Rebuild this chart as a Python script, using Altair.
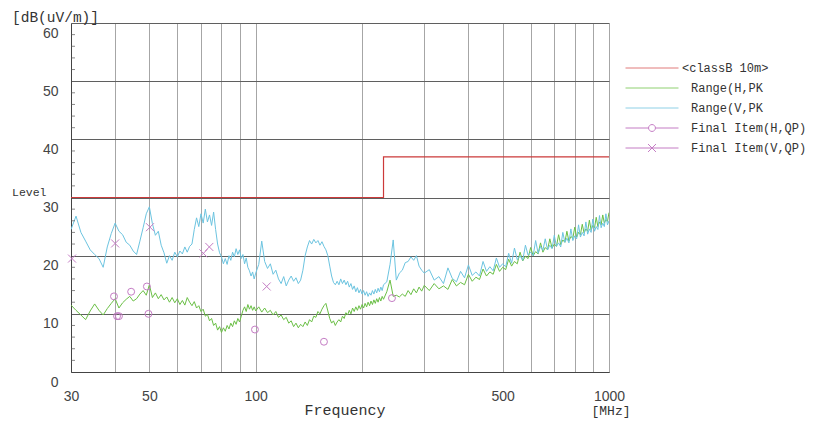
import altair as alt
import pandas as pd

# ---------------- data ----------------
F1 = [30, 31, 32, 33, 34, 35, 36, 37, 38, 39, 40, 41, 42, 43, 44, 45, 46, 47, 48, 49,
      50, 51, 52, 53, 54, 55, 56, 57, 58, 59, 60, 61, 62, 63, 64, 65, 66, 67, 68, 69,
      70, 71, 72, 73, 74, 75, 76, 77, 78, 79, 80, 81, 82, 83, 84, 85, 86, 87, 88, 89,
      90, 91, 92, 93, 94, 95, 96, 97, 98, 99, 100]
V1 = [24.5, 26.8, 24.0, 22.5, 21.0, 20.2, 19.5, 18.0, 21.5, 23.8, 25.6, 24.2, 23.6, 22.3, 21.8, 20.8, 20.2, 22.5, 24.8, 27.2,
      28.4, 25.5, 23.5, 24.2, 21.8, 20.5, 18.7, 20.0, 19.2, 20.6, 19.8, 20.8, 20.3, 21.5, 20.6, 21.6, 22.0, 24.5, 26.5, 25.0,
      27.2, 25.6, 28.0, 25.8, 27.0, 25.2, 27.5, 24.5, 22.0, 20.5, 19.8, 18.6, 19.5, 18.5, 20.0, 19.2, 20.6, 19.8, 21.2, 20.2,
      21.0, 19.5, 20.2, 18.6, 19.6, 18.0, 17.4, 16.5, 17.2, 16.0, 17.0]
H1 = [11.5, 10.6, 9.8, 9.0, 10.5, 11.7, 10.6, 9.8, 10.9, 11.8, 12.6, 11.0, 11.9, 12.5, 13.0, 12.2, 12.6, 13.4, 14.0, 13.2,
      15.0, 12.8, 13.6, 12.6, 13.3, 12.4, 12.9, 12.0, 12.8, 11.9, 12.6, 11.6, 12.3, 11.5, 12.8, 12.0, 11.4, 12.1, 11.0, 11.4,
      10.4, 10.8, 9.6, 9.9, 8.8, 9.2, 8.0, 8.4, 7.2, 7.8, 6.8, 7.6, 7.0, 8.0, 7.4, 8.4, 7.8, 8.8, 8.2, 9.2,
      8.6, 9.6, 10.6, 11.2, 10.4, 11.6, 10.8, 11.4, 10.6, 11.2, 10.5]

F2 = [102, 104, 106, 108, 110, 112, 114, 116, 118, 120, 122, 124, 126, 128, 130, 132, 134, 136, 138, 140,
      142, 144, 146, 148, 150, 152, 154, 156, 158, 160, 162, 164, 166, 168, 170, 172, 174, 176, 178, 180,
      182, 184, 186, 188, 190, 192, 194, 196, 198, 200, 202, 204, 206, 208, 210, 212, 214, 216, 218, 220,
      222, 224, 226, 228, 230]
V2 = [18.5, 22.5, 19.0, 17.8, 18.6, 16.8, 17.5, 16.0, 15.2, 16.4, 14.8, 15.8, 16.5, 15.6, 16.2, 15.2, 15.8, 17.5, 20.0, 21.5,
      22.6, 22.0, 22.8, 22.2, 22.6, 21.8, 22.4, 21.6, 21.0, 20.0, 18.2, 16.5, 15.4, 15.0, 15.6, 15.0, 16.0, 15.2, 15.8, 15.0,
      15.6, 14.6, 15.2, 14.2, 14.8, 13.8, 14.5, 13.6, 14.2, 13.4, 14.0, 13.2, 13.8, 13.0, 13.6, 13.2, 14.0, 13.4, 14.2, 13.6,
      14.4, 13.8, 14.6, 14.0, 15.0]
H2 = [11.2, 10.3, 11.0, 10.2, 10.6, 9.8, 10.4, 9.4, 9.8, 9.0, 9.4, 8.4, 8.8, 7.8, 8.4, 7.6, 8.2, 7.8, 8.6, 8.0,
      9.0, 8.6, 9.6, 9.4, 10.4, 10.0, 10.8, 11.4, 11.8, 10.5, 9.2, 8.4, 8.8, 8.0, 8.6, 9.0, 8.6, 9.6, 9.2, 10.2,
      9.8, 10.6, 10.0, 11.0, 10.4, 11.2, 10.6, 11.4, 10.8, 11.6, 11.0, 11.8, 11.2, 12.0, 11.4, 12.2, 11.6, 12.4, 11.8, 12.6,
      12.0, 12.8, 12.2, 13.0, 12.5]

F3 = [235, 240, 245, 250, 255, 260, 265, 270, 275, 280, 285, 290, 295, 300]
V3 = [15.5, 18.5, 22.7, 15.8, 17.0, 17.5, 18.8, 19.0, 19.8, 19.2, 20.0, 18.2, 17.5, 17.0]
H3 = [13.8, 15.8, 13.0, 13.2, 12.9, 13.4, 13.0, 14.0, 13.3, 14.3, 13.6, 14.6, 13.9, 14.9]

F4 = [310, 320, 330, 340, 350, 360, 370, 380, 390, 400, 410, 420, 430, 440, 450, 460, 470, 480, 490, 500,
      510, 520, 530, 540, 550, 560, 570, 580, 590, 600, 610, 620, 630, 640, 650, 660, 670, 680, 690, 700,
      710, 720, 730, 740, 750, 760, 770, 780, 790, 800, 810, 820, 830, 840, 850, 860, 870, 880, 890, 900,
      910, 920, 930, 940, 950, 960, 970, 980, 990, 1000]
V4 = [17.6, 15.8, 16.4, 15.2, 17.9, 16.1, 15.5, 17.3, 16.2, 18.4, 16.6, 17.2, 16.5, 19.0, 17.3, 18.1, 17.4, 19.6, 18.0, 18.6,
      18.1, 20.4, 18.7, 21.3, 19.3, 20.0, 19.2, 21.8, 20.1, 20.6, 20.0, 22.6, 20.4, 21.6, 20.9, 22.9, 21.0, 21.8, 21.2, 23.5,
      21.6, 22.2, 21.5, 24.0, 22.3, 23.0, 22.2, 24.6, 22.6, 23.4, 22.9, 25.3, 23.2, 24.0, 23.4, 25.8, 23.7, 24.6, 24.0, 26.3,
      24.2, 25.0, 24.5, 26.9, 24.8, 25.6, 25.0, 27.2, 25.3, 26.0]
H4 = [14.0, 15.2, 14.3, 14.8, 14.2, 15.9, 14.8, 15.4, 15.0, 16.8, 15.6, 16.3, 15.9, 17.7, 16.5, 17.2, 16.8, 18.5, 17.3, 18.0,
      17.6, 19.4, 18.2, 19.0, 18.6, 20.6, 19.1, 19.9, 19.5, 21.4, 20.0, 20.7, 20.3, 22.2, 20.6, 21.4, 21.0, 22.9, 21.3, 22.0,
      21.6, 23.6, 21.9, 22.7, 22.3, 24.2, 22.5, 23.3, 23.0, 24.9, 23.2, 24.0, 23.6, 25.4, 23.9, 24.6, 24.2, 26.1, 24.4, 25.2,
      24.8, 26.6, 25.0, 25.8, 25.3, 27.0, 25.6, 26.2, 25.9, 27.4]

LIMIT_F = [30, 230, 230, 1000]
LIMIT_DB = [30, 30, 37, 37]

QP_H_F = [39.7, 40.5, 41.0, 44.4, 49.2, 49.7, 99.5, 156, 243]
QP_H_DB = [13.0, 9.6, 9.6, 13.8, 14.7, 10.0, 7.3, 5.2, 12.7]
QP_V_F = [30.2, 40.0, 50.2, 71.1, 73.9, 107.4]
QP_V_DB = [19.5, 22.1, 24.9, 20.4, 21.5, 14.7]

X_GRID = [30, 40, 50, 60, 70, 80, 90, 100, 200, 300, 400, 500, 600, 700, 800, 900, 1000]
X_LABELED = [30, 50, 100, 500, 1000]
Y_MAJOR = [0, 10, 20, 30, 40, 50, 60]
Y_MINOR = [2, 4, 6, 8, 12, 14, 16, 18, 22, 24, 26, 28, 32, 34, 36, 38, 42, 44, 46, 48, 52, 54, 56, 58]

BLANK = "\u2800"
SERIES = ["<classB 10m>", BLANK + "Range(H,PK", BLANK + "Range(V,PK",
          BLANK + "Final Item(H,QP)", BLANK + "Final Item(V,QP)"]

# ---------------- styles ----------------
C_LIMIT = "#cc3a3a"
C_H = "#6abf45"
C_V = "#6cc4e0"
C_QP = "#c47cc4"
COLORS = ["#e07a7a", "#8fd070", "#8fd0e6", C_QP, C_QP]
LEG_SHAPES = [
    "M-1,0L1,0",
    "M-1,0L1,0",
    "M-1,0L1,0",
    "M-1,0L-0.13,0M0.13,0L1,0M0.13,0A0.13,0.13 0 1,1 -0.13,0A0.13,0.13 0 1,1 0.13,0",
    "M-1,0L1,0M-0.15,-0.15L0.15,0.15M-0.15,0.15L0.15,-0.15",
]
XMARK = "M-1,-1L1,1M-1,1L1,-1"

MONO = "Liberation Mono"
SANS = "Liberation Sans"

label_expr = "indexof([" + ",".join(str(v) for v in X_LABELED) + "], datum.value) >= 0 ? '' + datum.value : ''"

xs = alt.Scale(type="log", domain=[30, 1000], nice=False)
ys = alt.Scale(domain=[0, 60], nice=False)

x_axis = alt.Axis(values=X_GRID, labelExpr=label_expr, grid=True, gridColor="#a6a6a6", gridWidth=1,
                  ticks=False, tickSize=0, domainColor="#444", labelFont=SANS, labelFontSize=14,
                  labelColor="#444", labelPadding=17, labelFlush=False, labelOverlap=False, title=None,
                  zindex=0)
y_axis = alt.Axis(values=Y_MAJOR, grid=True, gridColor="#5f5f5f", gridWidth=1, ticks=False, tickSize=0,
                  domainColor="#444", labelFont=SANS, labelFontSize=14, labelColor="#444",
                  labelBaseline="top", labelOffset=3, labelPadding=13, labelAlign="right", title=None,
                  zindex=0)


def X(field):
    return alt.X(field, type="quantitative", scale=xs, axis=x_axis)


def Y(field):
    return alt.Y(field, type="quantitative", scale=ys, axis=y_axis)


df_h = pd.DataFrame({"f": F1 + F2 + F3 + F4, "db": H1 + H2 + H3 + H4})
df_v = pd.DataFrame({"f": F1 + F2 + F3 + F4, "db": V1 + V2 + V3 + V4})
df_lim = pd.DataFrame({"f": LIMIT_F, "db": LIMIT_DB, "i": list(range(len(LIMIT_F)))})
df_qh = pd.DataFrame({"f": QP_H_F, "db": QP_H_DB})
df_qv = pd.DataFrame({"f": QP_V_F, "db": QP_V_DB})
df_minor = pd.DataFrame({"v": Y_MINOR})
df_leg = pd.DataFrame({"s": SERIES})

limit = alt.Chart(df_lim).mark_line(color=C_LIMIT, strokeWidth=1.2, clip=True).encode(
    x=X("f"), y=Y("db"), order="i:Q")
green = alt.Chart(df_h).mark_line(color=C_H, strokeWidth=1, clip=True).encode(x=X("f"), y=Y("db"))
blue = alt.Chart(df_v).mark_line(color=C_V, strokeWidth=1, clip=True).encode(x=X("f"), y=Y("db"))
qh = alt.Chart(df_qh).mark_point(shape="circle", filled=False, size=48, color=C_QP, strokeWidth=1,
                                 opacity=1).encode(x=X("f"), y=Y("db"))
qv = alt.Chart(df_qv).mark_point(shape=XMARK, filled=False, size=64, color=C_QP, strokeWidth=1,
                                 opacity=1).encode(x=X("f"), y=Y("db"))
minor = alt.Chart(df_minor).mark_tick(orient="horizontal", size=8, thickness=1, color="#555",
                                      clip=True).encode(x=alt.datum(30), y=Y("v"))

leg = alt.Legend(orient="none", legendX=554, legendY=36, title=None, clipHeight=18, rowPadding=2,
                 labelFont=MONO, labelFontSize=12, labelColor="#333", labelOffset=3, labelLimit=400,
                 symbolSize=2809, symbolStrokeWidth=1, symbolOpacity=1, symbolFillColor="transparent",
                 padding=0)
legend_layer = alt.Chart(df_leg).mark_point(clip=True, filled=False, size=2809).encode(
    x=alt.value(-400), y=alt.value(-400),
    color=alt.Color("s:N", scale=alt.Scale(domain=SERIES, range=COLORS), legend=leg),
    shape=alt.Shape("s:N", scale=alt.Scale(domain=SERIES, range=LEG_SHAPES), legend=leg),
)


def label(text, x, y, size, align="left"):
    return alt.Chart(pd.DataFrame({"t": [text]})).mark_text(
        align=align, baseline="middle", font=MONO, fontSize=size, color="#333").encode(
        x=alt.value(x), y=alt.value(y), text="t:N")


texts = [
    label("[dB(uV/m)]", -59, -5, 14.5),
    label("Level", -59, 170, 11.5),
    label("Frequency", 274, 387, 15, "center"),
    label("[MHz]", 540, 388, 13, "center"),
]

chart = alt.layer(limit, green, blue, qh, qv, minor, legend_layer, *texts).properties(
    width=538, height=349, autosize="none",
    padding={"left": 63, "top": 15, "right": 200, "bottom": 48},
).configure_view(stroke=None)

chart.save("out.html", embed_options={"renderer": "svg", "actions": False})
